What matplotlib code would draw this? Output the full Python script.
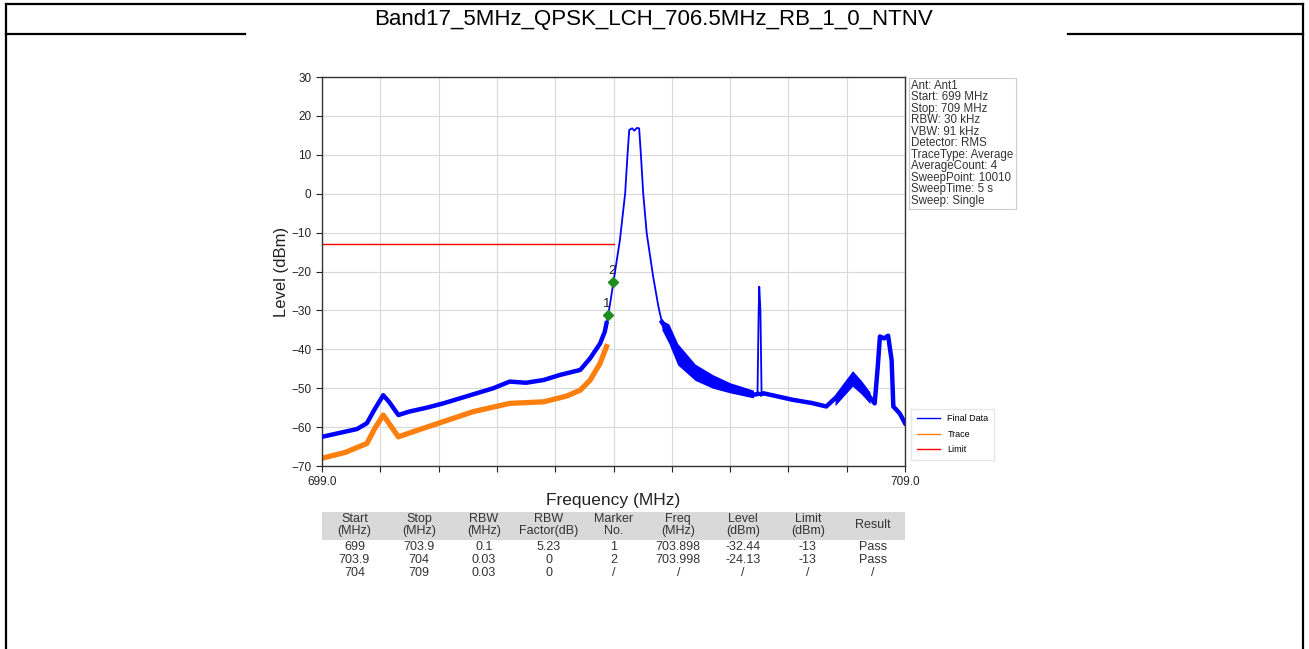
import numpy as np
import matplotlib
matplotlib.use("Agg")
import matplotlib.pyplot as plt
from matplotlib.lines import Line2D
from matplotlib.patches import Rectangle

plt.rcParams['font.family'] = ['Liberation Sans', 'DejaVu Sans']

# ---------------- data ----------------
TITLE = "Band17_5MHz_QPSK_LCH_706.5MHz_RB_1_0_NTNV"

final_freq = [699.00, 699.30, 699.60, 699.77, 699.90, 700.05, 700.15, 700.31, 700.50, 700.80,
              701.08, 701.50, 701.94, 702.22, 702.50, 702.80, 703.08, 703.43, 703.60, 703.77,
              703.85, 703.88, 703.91, 703.95, 704.00, 704.11, 704.20, 704.24, 704.27, 704.32,
              704.36, 704.40, 704.44, 704.47, 704.51, 704.57, 704.68, 704.77, 704.83, 704.91,
              705.03, 705.14, 705.37, 705.66, 705.94, 706.40, 706.47, 706.49, 706.50, 706.52,
              706.54, 706.57, 707.08, 707.40, 707.65, 707.88, 708.11, 708.28, 708.48, 708.53,
              708.57, 708.64, 708.71, 708.77, 708.80, 708.91, 709.00]
final_level = [-62.5, -61.5, -60.5, -59.0, -55.5, -51.8, -53.5, -56.9, -56.0, -55.0,
               -53.9, -52.0, -50.0, -48.3, -48.6, -47.9, -46.6, -45.3, -42.3, -38.5,
               -35.5, -33.3, -31.0, -27.5, -22.6, -11.9, 0.1, 10.0, 16.4, 16.8,
               16.2, 16.9, 16.8, 10.0, 0.0, -10.2, -21.3, -29.0, -33.0, -35.0,
               -37.6, -42.7, -46.2, -48.3, -50.0, -51.7, -51.5, -30.0, -23.9, -30.0,
               -51.5, -51.3, -53.0, -53.8, -54.7, -51.5, -47.5, -50.0, -53.9, -45.0,
               -36.7, -37.2, -36.5, -42.7, -54.7, -56.5, -59.0]

# noisy band around the carrier skirt and the 708 MHz bump (min / max envelope)
band_freq = [704.83, 704.95, 705.10, 705.40, 705.70, 706.00, 706.40]
band_lo = [-35.0, -38.5, -44.0, -48.0, -50.0, -51.2, -52.5]
band_hi = [-32.5, -33.5, -38.5, -43.8, -46.5, -48.6, -50.5]
bump_freq = [707.80, 707.95, 708.10, 708.25, 708.40]
bump_lo = [-54.5, -52.0, -49.5, -51.5, -54.0]
bump_hi = [-51.5, -48.5, -45.5, -48.0, -51.0]

trace_freq = [699.00, 699.40, 699.77, 699.90, 700.05, 700.31, 700.60, 701.08, 701.60, 702.22,
              702.80, 703.20, 703.43, 703.60, 703.77, 703.88]
trace_level = [-68.0, -66.5, -64.2, -60.5, -56.9, -62.5, -61.0, -58.6, -56.0, -53.9,
               -53.5, -52.0, -50.5, -47.9, -43.6, -39.3]

limit_freq = [699.0, 704.0]
limit_level = [-13, -13]

marker_no = ["1", "2"]
marker_freq = [703.898, 703.998]
marker_level = [-31.2, -22.6]

info_lines = ["Ant: Ant1", "Start: 699 MHz", "Stop: 709 MHz", "RBW: 30 kHz", "VBW: 91 kHz",
              "Detector: RMS", "TraceType: Average", "AverageCount: 4", "SweepPoint: 10010",
              "SweepTime: 5 s", "Sweep: Single"]

table_header = ["Start\n(MHz)", "Stop\n(MHz)", "RBW\n(MHz)", "RBW\nFactor(dB)", "Marker\nNo.",
                "Freq\n(MHz)", "Level\n(dBm)", "Limit\n(dBm)", "Result"]
table_rows = [
    ["699", "703.9", "0.1", "5.23", "1", "703.898", "-32.44", "-13", "Pass"],
    ["703.9", "704", "0.03", "0", "2", "703.998", "-24.13", "-13", "Pass"],
    ["704", "709", "0.03", "0", "/", "/", "/", "/", "/"],
]

# ---------------- figure ----------------
W, H = 1309, 649
fig = plt.figure(figsize=(W / 100, H / 100), dpi=100)

def px(x, y):
    return x / W, 1 - y / H

# outer frame of the report page
frame = dict(color='black', lw=1.6, transform=fig.transFigure)
fig.add_artist(Line2D([6 / W, 6 / W], [0, px(0, 4)[1]], **frame))
fig.add_artist(Line2D([1303 / W, 1303 / W], [0, px(0, 4)[1]], **frame))
fig.add_artist(Line2D([6 / W, 1303 / W], [px(0, 4)[1]] * 2, **frame))
fig.add_artist(Line2D([6 / W, 245 / W], [px(0, 34)[1]] * 2, **frame))
fig.add_artist(Line2D([1068 / W, 1303 / W], [px(0, 34)[1]] * 2, **frame))
fig.text(654 / W, px(0, 19)[1], TITLE, ha='center', va='center', fontsize=16)

# ---------------- spectrum axes ----------------
ax = fig.add_axes([322 / W, 1 - 466 / H, (905 - 322) / W, (466 - 77) / H])
ax.set_xlim(699, 709)
ax.set_ylim(-70, 30)

ff = np.array(final_freq)
fl = np.array(final_level)
# noise floor parts are drawn thicker than the clean carrier / spike edges
noisy = (ff <= 703.88) | ((ff >= 704.83) & (ff <= 706.47)) | (ff >= 706.54)

ax.fill_between(band_freq, band_lo, band_hi, color='#0000FF', lw=0)
ax.fill_between(bump_freq, bump_lo, bump_hi, color='#0000FF', lw=0)
ax.plot(ff, fl, color='#0000FF', lw=1.3, label='Final Data', zorder=3)
ax.plot(ff, np.ma.masked_where(~noisy, fl), color='#0000FF', lw=3.2, zorder=3)
ax.plot(trace_freq, trace_level, color='#FF7F0E', lw=3.8, label='Trace', zorder=2)
ax.plot(limit_freq, limit_level, color='#FF0000', lw=1.0, label='Limit', zorder=2)

ax.plot(marker_freq, marker_level, 'D', color='#1E8C1E', ms=5, zorder=4)
for n, f, l in zip(marker_no, marker_freq, marker_level):
    ax.text(f - 0.02, l + 1.2, n, ha='center', va='bottom', fontsize=9.5, color='#222222', zorder=5)

ax.set_xticks(np.arange(699, 710, 1))
ax.set_xticklabels(["699.0"] + [""] * 9 + ["709.0"])
ax.set_yticks(np.arange(-70, 31, 10))
ax.tick_params(labelsize=8.5, length=4, colors='#222222')
ax.grid(True, color='#D8D8D8', lw=0.8)
ax.set_axisbelow(True)
for s in ax.spines.values():
    s.set_color('#333333')
    s.set_linewidth(1.0)
ax.set_ylabel("Level (dBm)", fontsize=12, color='#222222', labelpad=2)
ax.set_xlabel("Frequency (MHz)", fontsize=12.5, color='#222222', labelpad=3)

# info box
fig.text(911 / W, px(0, 80)[1], "\n".join(info_lines), ha='left', va='top',
         fontsize=8.3, linespacing=0.94, color='#333333',
         bbox=dict(boxstyle='square,pad=0.2', fc='white', ec='#CCCCCC', lw=0.8))

# legend outside the axes, bottom right
leg = ax.legend(loc='lower left', bbox_to_anchor=(1.003, 0.005), fontsize=6.5, frameon=True,
                edgecolor='#E0E0E0', fancybox=False, handlelength=2.6, borderpad=0.6,
                labelspacing=0.7)
for h in leg.get_lines():
    h.set_linewidth(1.0)

# ---------------- result table ----------------
tab_left, tab_right = 322, 905
col_w = (tab_right - tab_left) / len(table_header)
fig.add_artist(Rectangle(px(tab_left, 540), (tab_right - tab_left) / W, 28 / H,
                         transform=fig.transFigure, fc='#D9D9D9', ec='none'))
for i, h in enumerate(table_header):
    cx = (tab_left + (i + 0.5) * col_w) / W
    fig.text(cx, px(0, 525)[1], h, ha='center', va='center', fontsize=9,
             linespacing=0.92, color='#333333')
    for r, row in enumerate(table_rows):
        fig.text(cx, px(0, 547 + 13 * r)[1], row[i], ha='center', va='center',
                 fontsize=9, color='#333333')

fig.savefig("out.png", dpi=100)
